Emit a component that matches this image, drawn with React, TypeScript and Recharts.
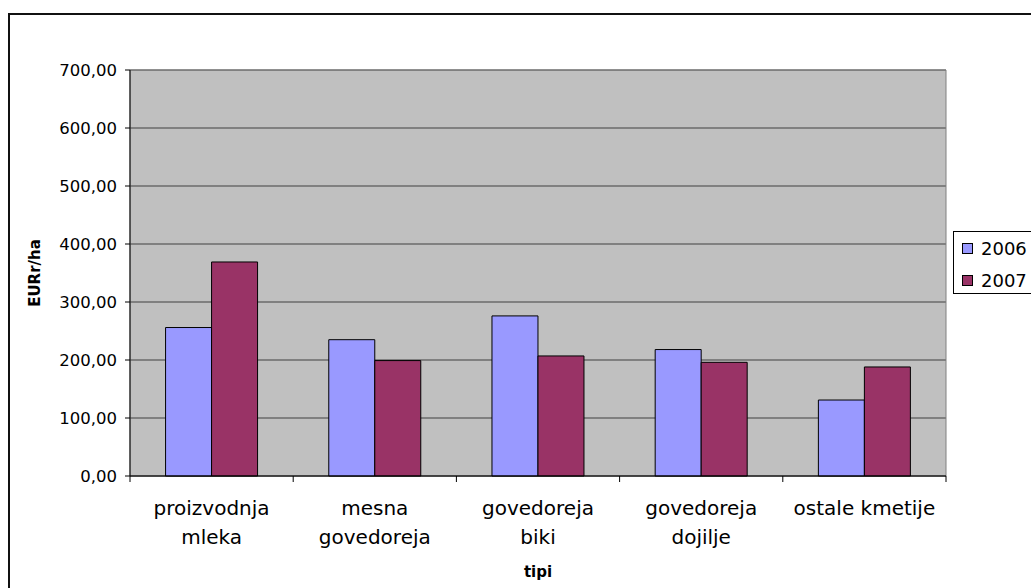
import { Bar, BarChart, CartesianGrid, Legend, ReferenceArea, XAxis, YAxis } from 'recharts';

const categories = ['proizvodnja mleka', 'mesna govedoreja', 'govedoreja biki', 'govedoreja dojilje', 'ostale kmetije'];
const categoryLines = [
  ['proizvodnja', 'mleka'],
  ['mesna', 'govedoreja'],
  ['govedoreja', 'biki'],
  ['govedoreja', 'dojilje'],
  ['ostale kmetije'],
];
const values2006 = [256, 235, 276, 218, 131];
const values2007 = [369, 199, 207, 196, 188];
const yTicks = [0, 100, 200, 300, 400, 500, 600, 700];

const data = categories.map((name, i) => ({ name, y2006: values2006[i], y2007: values2007[i] }));

const FONT = 'DejaVu Sans';
const X_TICK_SIZE = 6;
const X_TICK_MARGIN = 2;

function CategoryTick(props: any) {
  const { x, y, payload, width, visibleTicksCount } = props;
  const idx = categories.indexOf(payload.value);
  const lines = categoryLines[idx] || [payload.value];
  const half = payload.offset || width / (visibleTicksCount || categories.length) / 2;
  const axisY = y - X_TICK_SIZE - X_TICK_MARGIN;
  return (
    <g>
      <line x1={x - half} x2={x - half} y1={axisY} y2={axisY + X_TICK_SIZE} stroke="#000" />
      {idx === categories.length - 1 && (
        <line x1={x + half} x2={x + half} y1={axisY} y2={axisY + X_TICK_SIZE} stroke="#000" />
      )}
      <text x={x} y={y} textAnchor="middle" fontFamily={FONT} fontSize={20} fill="#000">
        {lines.map((line, i) => (
          <tspan key={i} x={x} y={y + 31 + i * 29}>
            {line}
          </tspan>
        ))}
      </text>
    </g>
  );
}

function LegendBox(props: any) {
  const items = props.payload || [];
  return (
    <div
      style={{
        position: 'relative',
        width: 90,
        height: 63,
        border: '1px solid #000',
        background: '#fff',
        boxSizing: 'border-box',
        fontFamily: FONT,
        fontSize: 18,
      }}
    >
      {items.map((item: any, i: number) => (
        <div key={item.value} style={{ position: 'absolute', left: 8, top: 5 + i * 32, height: 22, display: 'flex', alignItems: 'center' }}>
          <span style={{ display: 'inline-block', width: 9, height: 9, border: '1px solid #000', background: item.color, marginRight: 8 }} />
          <span style={{ color: '#000' }}>{item.value}</span>
        </div>
      ))}
    </div>
  );
}

export default function App() {
  return (
    <div style={{ position: 'absolute', left: 0, top: 0, width: 1031, height: 588, overflow: 'hidden', background: '#fff' }}>
      <div style={{ position: 'absolute', left: 8, top: 13, width: 1100, height: 700, borderLeft: '2px solid #111', borderTop: '2px solid #111' }} />
      <div style={{ position: 'absolute', left: 0, top: 0 }}>
        <BarChart
          width={1031}
          height={588}
          data={data}
          margin={{ top: 70, right: 85, left: 0, bottom: 0 }}
          barCategoryGap="21.8%"
          barGap={0}
          style={{ fontFamily: FONT }}
        >
          <CartesianGrid vertical={false} fill="#C0C0C0" stroke="#404040" strokeWidth={1} />
          <ReferenceArea y1={0} y2={700} fill="none" stroke="#808080" strokeWidth={1} ifOverflow="visible" />
          <XAxis
            dataKey="name"
            height={112}
            tickLine={false}
            tickSize={X_TICK_SIZE}
            tickMargin={X_TICK_MARGIN}
            axisLine={{ stroke: '#000' }}
            interval={0}
            tick={<CategoryTick />}
            label={{
              content: (p: any) => (
                <text
                  x={p.viewBox.x + p.viewBox.width / 2}
                  y={p.viewBox.y + 101}
                  textAnchor="middle"
                  fontFamily={FONT}
                  fontWeight="bold"
                  fontSize={15}
                  fill="#000"
                >
                  tipi
                </text>
              ),
            }}
          />
          <YAxis
            width={130}
            domain={[0, 700]}
            ticks={yTicks}
            interval={0}
            axisLine={{ stroke: '#000' }}
            tickLine={{ stroke: '#000' }}
            tickSize={5}
            tickMargin={8}
            tick={{ fill: '#000', fontSize: 16.5, fontFamily: FONT }}
            tickFormatter={(v: number) => v.toFixed(2).replace('.', ',')}
            label={{
              content: (p: any) => {
                const cx = p.viewBox.x + 35;
                const cy = p.viewBox.y + p.viewBox.height / 2;
                return (
                  <text
                    x={cx}
                    y={cy}
                    transform={`rotate(-90 ${cx} ${cy})`}
                    textAnchor="middle"
                    dominantBaseline="central"
                    fontFamily={FONT}
                    fontWeight="bold"
                    fontSize={15}
                    fill="#000"
                  >
                    EURr/ha
                  </text>
                );
              },
            }}
          />
          <Legend
            layout="horizontal"
            align="center"
            verticalAlign="middle"
            content={<LegendBox />}
            wrapperStyle={{ left: 953, top: 231, width: 90, height: 63 }}
          />
          <Bar dataKey="y2006" name="2006" fill="#9999FF" stroke="#000" strokeWidth={1} isAnimationActive={false} />
          <Bar dataKey="y2007" name="2007" fill="#993366" stroke="#000" strokeWidth={1} isAnimationActive={false} />
        </BarChart>
      </div>
    </div>
  );
}
